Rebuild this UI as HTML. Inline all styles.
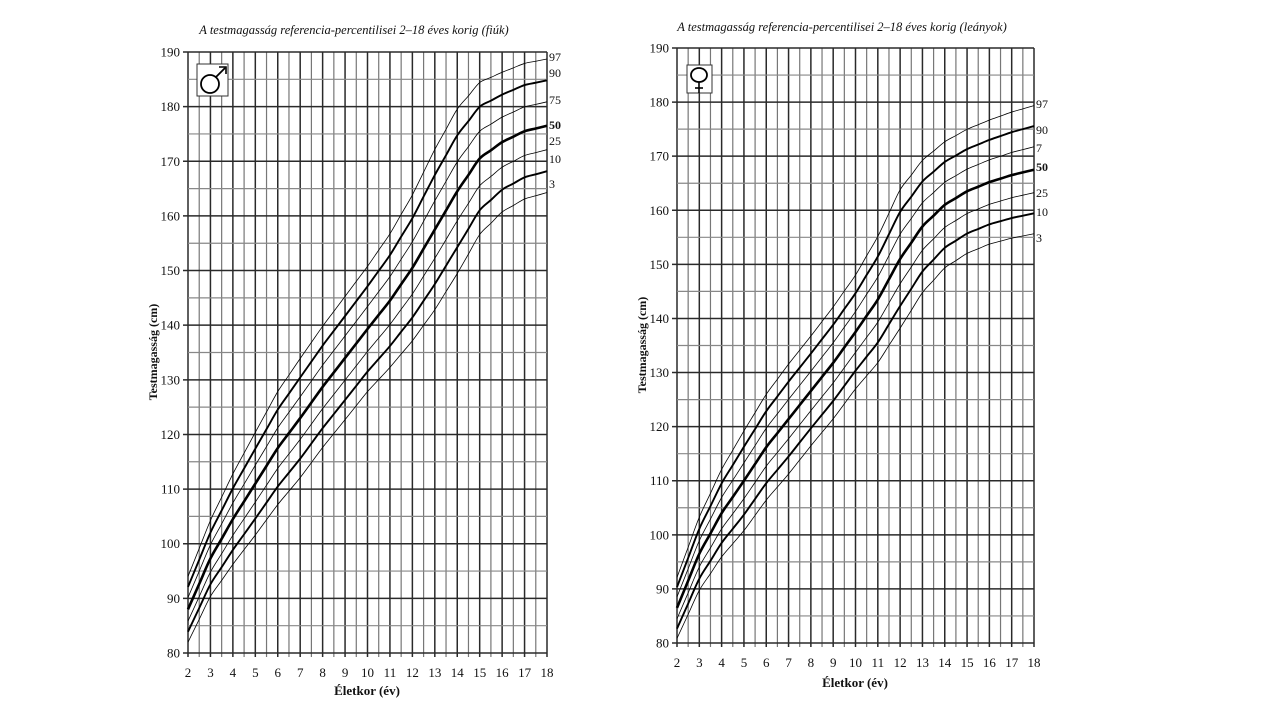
<!DOCTYPE html>
<html><head><meta charset="utf-8">
<style>
html,body{margin:0;padding:0;background:#fff;}
svg{display:block;}
text{font-family:"Liberation Serif",serif;fill:#111;}
</style></head>
<body>
<svg id="s" width="1280" height="720" viewBox="0 0 1280 720" xmlns="http://www.w3.org/2000/svg">
<text x="354" y="34" font-size="12.5" font-style="italic" text-anchor="middle">A testmagasság referencia-percentilisei 2–18 éves korig (fiúk)</text>
<text x="842" y="31" font-size="12.5" font-style="italic" text-anchor="middle">A testmagasság referencia-percentilisei 2–18 éves korig (leányok)</text>
<text transform="translate(157,352) rotate(-90)" font-size="12" font-weight="bold" text-anchor="middle">Testmagasság (cm)</text>
<text transform="translate(646,345) rotate(-90)" font-size="12" font-weight="bold" text-anchor="middle">Testmagasság (cm)</text>
<text x="367" y="695" font-size="13" font-weight="bold" text-anchor="middle">Életkor (év)</text>
<text x="855" y="687" font-size="13" font-weight="bold" text-anchor="middle">Életkor (év)</text>
<g id="g"></g>
</svg>
<script>
var g=document.getElementById('g');var out='';
function chart(x0,x1,y190,y80,m,sd,labels,sym){
  var X=function(a){return x0+(a-2)*(x1-x0)/16;};
  var Y=function(h){return y80-(h-80)*(y80-y190)/110;};
  for(var a=2;a<=18.001;a+=0.5){var dark=(a%1===0);
    out+='<line x1="'+X(a)+'" y1="'+y190+'" x2="'+X(a)+'" y2="'+(y80+4)+'" stroke="'+(dark?'#2a2a2a':'#777')+'" stroke-width="'+(dark?1.5:1.2)+'"/>';}
  for(var h=80;h<=190;h+=5){var dk=(h%10===0);
    out+='<line x1="'+(dk?X(2)-5:X(2))+'" y1="'+Y(h)+'" x2="'+X(18)+'" y2="'+Y(h)+'" stroke="'+(dk?'#2a2a2a':'#888')+'" stroke-width="'+(dk?1.5:1.2)+'"/>';
    if(dk) out+='<text x="'+(X(2)-8)+'" y="'+(Y(h)+4.5)+'" font-size="13" text-anchor="end">'+h+'</text>';}
  for(var a=2;a<=18;a++) out+='<text x="'+X(a)+'" y="'+(y80+24)+'" font-size="13" text-anchor="middle">'+a+'</text>';
  var zs=[[-1.88,0.8],[-1.28,1.9],[-0.674,0.8],[0,2.6],[0.674,0.8],[1.28,1.9],[1.88,0.8]];
  zs.forEach(function(zw){var z=zw[0];var pts=[];
    for(var i=0;i<=32;i++){var a=2+i/2;var k=Math.floor((a-2));var f=(a-2)-k;var k2=Math.min(k+1,16);
      var mv=m[k]*(1-f)+m[k2]*f, sv=sd[k]*(1-f)+sd[k2]*f;
      pts.push([X(a),Y(mv+z*sv)]);}
    var d='M'+pts[0][0]+','+pts[0][1];
    for(var i=0;i<pts.length-1;i++){var p0=pts[Math.max(i-1,0)],p1=pts[i],p2=pts[i+1],p3=pts[Math.min(i+2,pts.length-1)];
      d+=' C'+(p1[0]+(p2[0]-p0[0])/6)+','+(p1[1]+(p2[1]-p0[1])/6)+' '+(p2[0]-(p3[0]-p1[0])/6)+','+(p2[1]-(p3[1]-p1[1])/6)+' '+p2[0]+','+p2[1];}
    out+='<path d="'+d+'" fill="none" stroke="#000" stroke-width="'+zw[1]+'"/>';});
  labels.forEach(function(l){out+='<text x="'+(X(18)+2)+'" y="'+l[1]+'" font-size="12"'+(l[2]?' font-weight="bold"':'')+'>'+l[0]+'</text>';});
  out+=sym;
}
chart(188,547,52,653,
 [88,97.3,104.5,111,117.5,123,128.7,134,139.3,144.5,150.5,157.5,164.5,170.5,173.5,175.5,176.5],
 [3.2,3.7,4.4,5,5.5,5.8,5.9,6,6.1,6.5,7.1,7.8,8.0,7.4,6.8,6.6,6.5],
 [['97',61],['90',77],['75',104],['50',129,1],['25',145],['10',163],['3',188]],
 '<rect x="197" y="64" width="31" height="32" fill="#fff" stroke="#333"/><circle cx="210" cy="84" r="9" fill="none" stroke="#000" stroke-width="1.8"/><line x1="216" y1="77" x2="225" y2="68" stroke="#000" stroke-width="1.8"/><path d="M219,67 L226,67 L226,74" fill="none" stroke="#000" stroke-width="1.6"/>');
chart(677,1034,48,643,
 [86.5,96.5,104,110,116.2,121.4,126.6,131.8,137.5,143.5,151,157,161,163.5,165.2,166.5,167.5],
 [3,3.6,4.3,4.9,5.2,5.4,5.4,5.5,5.6,6.2,6.8,6.5,6.2,6.1,6.1,6.2,6.3],
 [['97',108],['90',134],['7',152],['50',171,1],['25',197],['10',216],['3',242]],
 '<rect x="687" y="65" width="25" height="28" fill="#fff" stroke="#333"/><ellipse cx="699" cy="75" rx="8" ry="7" fill="none" stroke="#000" stroke-width="1.8"/><line x1="699" y1="82" x2="699" y2="93" stroke="#000" stroke-width="1.6"/><line x1="695" y1="88" x2="703" y2="88" stroke="#000" stroke-width="1.6"/>');
g.innerHTML=out;
</script>
</body></html>
